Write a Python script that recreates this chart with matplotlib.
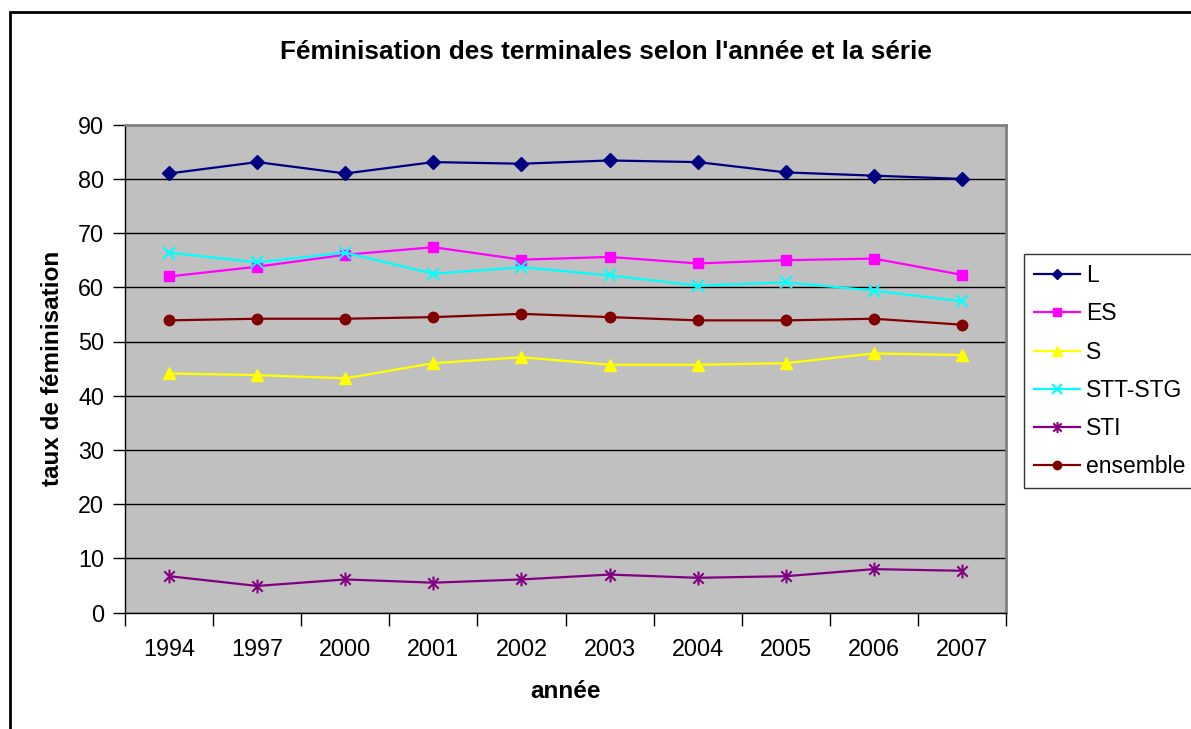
import matplotlib
matplotlib.use("Agg")
import matplotlib.pyplot as plt
from matplotlib.path import Path
from matplotlib.patches import Rectangle

plt.rcParams['font.family'] = ['Liberation Sans', 'DejaVu Sans']

years = ['1994', '1997', '2000', '2001', '2002', '2003', '2004', '2005', '2006', '2007']
L = [81.0, 83.1, 81.0, 83.1, 82.8, 83.4, 83.1, 81.2, 80.6, 80.0]
ES = [62.0, 63.8, 66.0, 67.4, 65.1, 65.6, 64.4, 65.0, 65.3, 62.3]
S = [44.1, 43.8, 43.2, 46.0, 47.1, 45.7, 45.7, 46.0, 47.8, 47.5]
STT_STG = [66.4, 64.6, 66.4, 62.5, 63.7, 62.2, 60.3, 60.9, 59.4, 57.4]
STI = [6.7, 4.9, 6.1, 5.5, 6.1, 7.0, 6.4, 6.7, 8.0, 7.7]
ensemble = [53.9, 54.2, 54.2, 54.5, 55.1, 54.5, 53.9, 53.9, 54.2, 53.1]

series_names = ['L', 'ES', 'S', 'STT-STG', 'STI', 'ensemble']
series_values = [L, ES, S, STT_STG, STI, ensemble]

star = Path([(0, -1), (0, 1), (-0.75, -0.75), (0.75, 0.75), (-0.75, 0.75), (0.75, -0.75)],
            [Path.MOVETO, Path.LINETO, Path.MOVETO, Path.LINETO, Path.MOVETO, Path.LINETO])

styles = [
    dict(color='#000080', marker='D', ms=7),
    dict(color='#FF00FF', marker='s', ms=7.5),
    dict(color='#FFFF00', marker='^', ms=9),
    dict(color='#00FFFF', marker='x', ms=9, mew=1.5),
    dict(color='#800080', marker=star, ms=10, mew=1.5),
    dict(color='#800000', marker='o', ms=7.5),
]

fig = plt.figure(figsize=(11.91, 7.29), dpi=100)
fig.patch.set_facecolor('white')

# chart outer border (right/bottom cut off)
fig.patches.append(Rectangle((10 / 1191, -0.1), 1.2, 1 - 12 / 729 + 0.1,
                             transform=fig.transFigure, fill=False,
                             edgecolor='black', linewidth=2, zorder=0))

ax = fig.add_axes([125 / 1191, 1 - 612.5 / 729, (1006 - 125) / 1191, (612.5 - 124.7) / 729])
ax.set_facecolor('#C0C0C0')

x = list(range(len(years)))
lines = []
for name, vals, st in zip(series_names, series_values, styles):
    ln, = ax.plot(x, vals, color=st['color'], marker=st['marker'], markersize=st['ms'],
                  markeredgewidth=st.get('mew', 1), markerfacecolor=st['color'],
                  markeredgecolor=st['color'], linewidth=1.6, label=name, zorder=3)
    lines.append(ln)

ax.set_xlim(-0.5, len(years) - 0.5)
ax.set_ylim(0, 90)
ax.set_yticks(range(0, 91, 10))
ax.yaxis.grid(True, color='black', linewidth=1)
ax.set_axisbelow(True)

ax.set_xticks(x)
ax.set_xticklabels(years)
ax.set_xticks([i - 0.5 for i in range(len(years) + 1)], minor=True)
ax.tick_params(axis='x', which='major', length=0, pad=18, labelsize=16.8)
ax.tick_params(axis='x', which='minor', length=9, width=1, direction='out', color='black')
ax.tick_params(axis='y', length=9, width=1, direction='out', pad=6, labelsize=16.8)

for side in ['left', 'bottom']:
    ax.spines[side].set_color('black')
    ax.spines[side].set_linewidth(1)
for side in ['top', 'right']:
    ax.spines[side].set_color('#808080')
    ax.spines[side].set_linewidth(2)

ax.set_xlabel('année', fontsize=17.5, fontweight='bold', labelpad=14)
ax.set_ylabel('taux de féminisation', fontsize=17.5, fontweight='bold', labelpad=10)
fig.text(606 / 1191, 1 - 52 / 729, "Féminisation des terminales selon l'année et la série",
         ha='center', va='center', fontsize=18.8, fontweight='bold')

leg = fig.legend(handles=lines, labels=series_names, loc='upper left',
                 bbox_to_anchor=(1024 / 1191, 1 - 254 / 729), borderaxespad=0,
                 fontsize=16.5, frameon=True, fancybox=False, edgecolor='black',
                 handlelength=2.0, handletextpad=0.26, labelspacing=0.66,
                 borderpad=0.45, markerscale=0.8)
leg.get_frame().set_linewidth(1)

fig.savefig('out.png', dpi=100, facecolor='white')
